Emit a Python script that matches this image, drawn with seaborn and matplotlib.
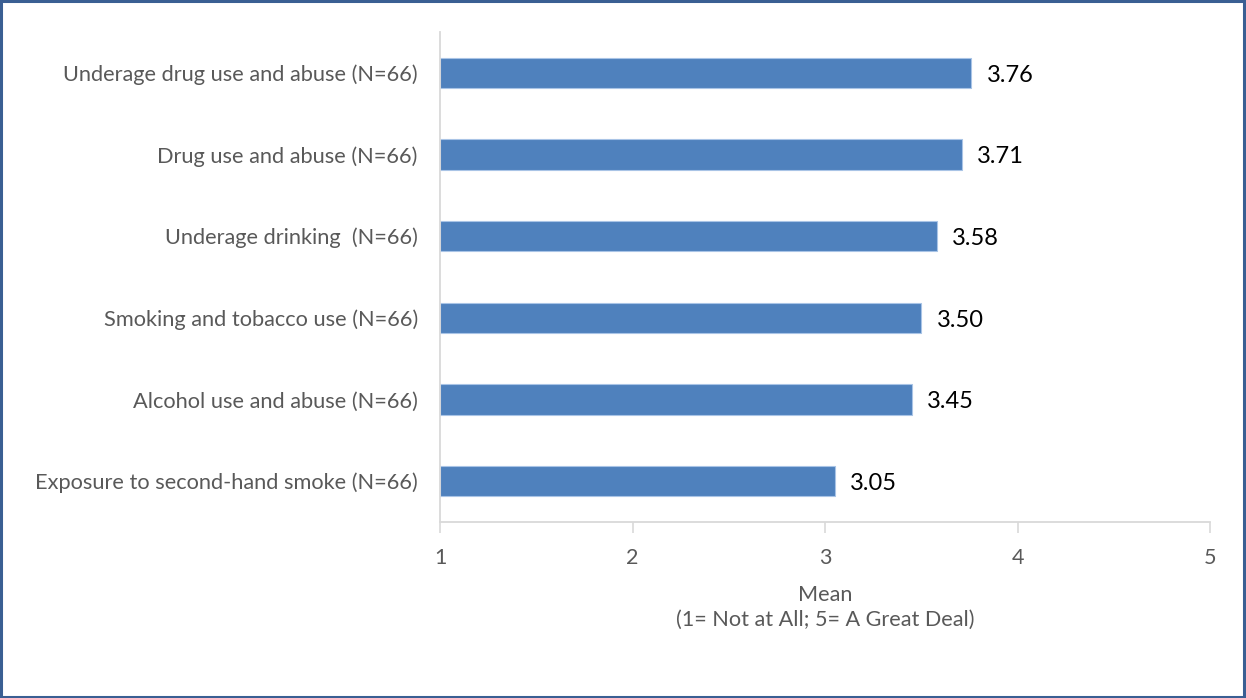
import matplotlib
matplotlib.use("Agg")
import matplotlib.pyplot as plt
import seaborn as sns
import pandas as pd
from matplotlib.patches import Rectangle

categories = [
    "Underage drug use and abuse (N=66)",
    "Drug use and abuse (N=66)",
    "Underage drinking  (N=66)",
    "Smoking and tobacco use (N=66)",
    "Alcohol use and abuse (N=66)",
    "Exposure to second-hand smoke (N=66)",
]
means = [3.76, 3.71, 3.58, 3.50, 3.45, 3.05]
x_ticks = [1, 2, 3, 4, 5]

sns.set_style("white")
plt.rcParams["font.family"] = ["Lato", "DejaVu Sans"]

df = pd.DataFrame({"cat": categories, "mean": means})

fig = plt.figure(figsize=(12.46, 6.98), dpi=100)
ax = fig.add_axes([440/1246, 1-522/698, 770/1246, 490/698])

sns.barplot(data=df, y="cat", x="mean", orient="h", color="#4F81BD",
            width=0.37, saturation=1, ax=ax, edgecolor="#A9C4E6", linewidth=0.8)
# bars start at 1
for p in ax.patches:
    w = p.get_width()
    p.set_x(1)
    p.set_width(w - 1)

ax.set_xlim(1, 5)
ax.set_ylim(5.5, -0.5)
ax.set_xticks(x_ticks)
ax.set_xticklabels([str(t) for t in x_ticks], fontsize=15.5, color="#595959")
ax.tick_params(axis="x", length=8, width=1.2, color="#D9D9D9", pad=11, direction="out", bottom=True)
ax.tick_params(axis="y", length=0, pad=16, labelsize=15.7, labelcolor="#595959")
ax.set_ylabel("")
ax.set_xlabel("Mean\n(1= Not at All; 5= A Great Deal)", fontsize=15.6, color="#595959",
              labelpad=12, linespacing=1.3)

for s in ["top", "right"]:
    ax.spines[s].set_visible(False)
for s in ["left", "bottom"]:
    ax.spines[s].set_visible(True)
    ax.spines[s].set_color("#D9D9D9")
    ax.spines[s].set_linewidth(1.3)

for i, v in enumerate(means):
    ax.text(v + 0.08, i + 0.03, f"{v:.2f}", va="center", ha="left", fontsize=17, color="#000000")

fig.patches.append(Rectangle((0.001, 0.001), 0.997, 0.997, transform=fig.transFigure,
                             fill=False, edgecolor="#3A5F93", linewidth=2.2))

fig.savefig("out.png", dpi=100)
